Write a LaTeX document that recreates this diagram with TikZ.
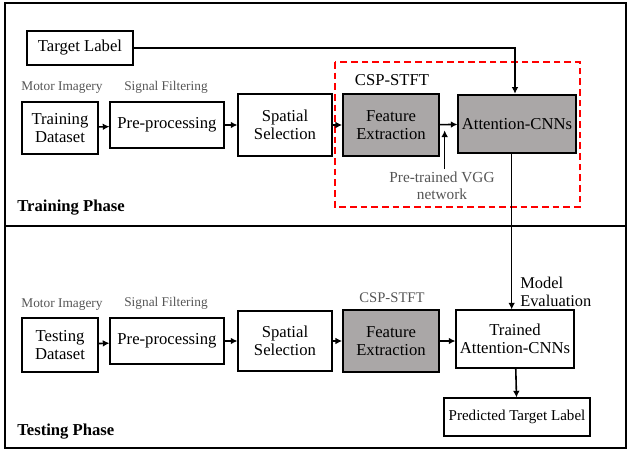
\documentclass[tikz,border=0pt]{standalone}
\usepackage{fontspec}
\setmainfont{Liberation Serif}
\usetikzlibrary{arrows.meta,positioning}

\definecolor{boxgray}{RGB}{170,167,167}
\definecolor{notegray}{RGB}{85,85,85}

\tikzset{
	block/.style = {draw, line width=1.3pt, align=center, inner sep=0pt, font=\fontsize{12.5}{13.5}\selectfont},
	shaded/.style = {block, fill=boxgray},
	note/.style = {align=left, inner sep=0pt, font=\fontsize{10}{11}\selectfont, text=notegray},
	phase/.style = {anchor=west, inner sep=0pt, font=\bfseries\fontsize{12.5}{13.5}\selectfont},
	flow/.style = {line width=1.2pt, -{Latex[length=5pt,width=5pt]}},
}

\begin{document}
\begin{tikzpicture}[x=0.75pt, y=-0.75pt]
	\useasboundingbox (0,0) rectangle (628,450);
	% frame and phase divider
	\draw[line width=0.8pt] (5,3) rectangle (626,448);
	\draw[line width=2.2pt] (5,226) -- (626,226);

	% training phase
	\node[block, minimum width=79pt, minimum height=26pt] (target) at (80,48) {Target Label};
	\node[note] (motor1) at (62,88) {Motor Imagery};
	\node[note] (filter1) at (166,87) {Signal Filtering};
	\node[block, minimum width=57pt, minimum height=39pt] (trainset) at (60,128) {Training\\Dataset};
	\node[block, minimum width=85pt, minimum height=35pt] (prep1) at (167,125) {Pre-processing};
	\node[block, minimum width=70pt, minimum height=46pt] (spatial1) at (285,125) {Spatial\\Selection};
	\node[shaded, minimum width=72pt, minimum height=47pt] (feat1) at (391,125) {Feature\\Extraction};
	\node[shaded, minimum width=88pt, minimum height=44pt] (att) at (517,124) {Attention-CNNs};
	\node[inner sep=0pt, font=\fontsize{12.5}{13.5}\selectfont] (csp1) at (392,80) {CSP-STFT};
	\node[note, align=center, font=\fontsize{11.5}{13}\selectfont] (vgg) at (442,186) {Pre-trained VGG\\network};
	\node[phase] (trainphase) at (17,208) {Training Phase};
	\draw[red, dashed, line width=1.2pt, dash pattern=on 5pt off 3pt] (335,62) rectangle (580,207);

	\draw[flow] (trainset) -- (prep1);
	\draw[flow] (prep1) -- (spatial1);
	\draw[flow] (spatial1) -- (feat1);
	\draw[flow] (feat1) -- (att);
	\draw[flow] (target.east) -| ([xshift=-1.5pt]att.north);
	\draw[flow] ([xshift=2pt,yshift=2pt]vgg.north) -- ++(0,29pt);

	% testing phase
	\node[note] (motor2) at (62,305) {Motor Imagery};
	\node[note] (filter2) at (166,303) {Signal Filtering};
	\node[block, minimum width=57pt, minimum height=40pt] (testset) at (60,345) {Testing\\Dataset};
	\node[block, minimum width=85pt, minimum height=35pt] (prep2) at (167,341) {Pre-processing};
	\node[block, minimum width=70pt, minimum height=45pt] (spatial2) at (285,341) {Spatial\\Selection};
	\node[shaded, minimum width=72pt, minimum height=47pt] (feat2) at (391,341) {Feature\\Extraction};
	\node[note, font=\fontsize{11}{12}\selectfont] (csp2) at (392,298) {CSP-STFT};
	\node[block, minimum width=88pt, minimum height=43pt] (trained) at (515,339) {Trained\\Attention-CNNs};
	\node[block, minimum width=110pt, minimum height=28pt, font=\fontsize{11.3}{12.5}\selectfont] (predict) at (517,417) {Predicted Target Label};
	\node[inner sep=0pt, align=left, anchor=west, font=\fontsize{12.3}{13.5}\selectfont] (evalnote) at (520,292) {Model\\Evaluation};
	\node[phase] (testphase) at (17,432) {Testing Phase};

	\draw[flow] (testset) -- (prep2);
	\draw[flow] (prep2) -- (spatial2);
	\draw[flow] (spatial2) -- (feat2);
	\draw[flow] (feat2) -- (feat2 -| trained.west);
	\draw[flow] ([xshift=-4pt]att.south) -- ([xshift=-4pt]att.south |- trained.north);
	\draw[flow] (trained) -- (predict);
\end{tikzpicture}
\end{document}
